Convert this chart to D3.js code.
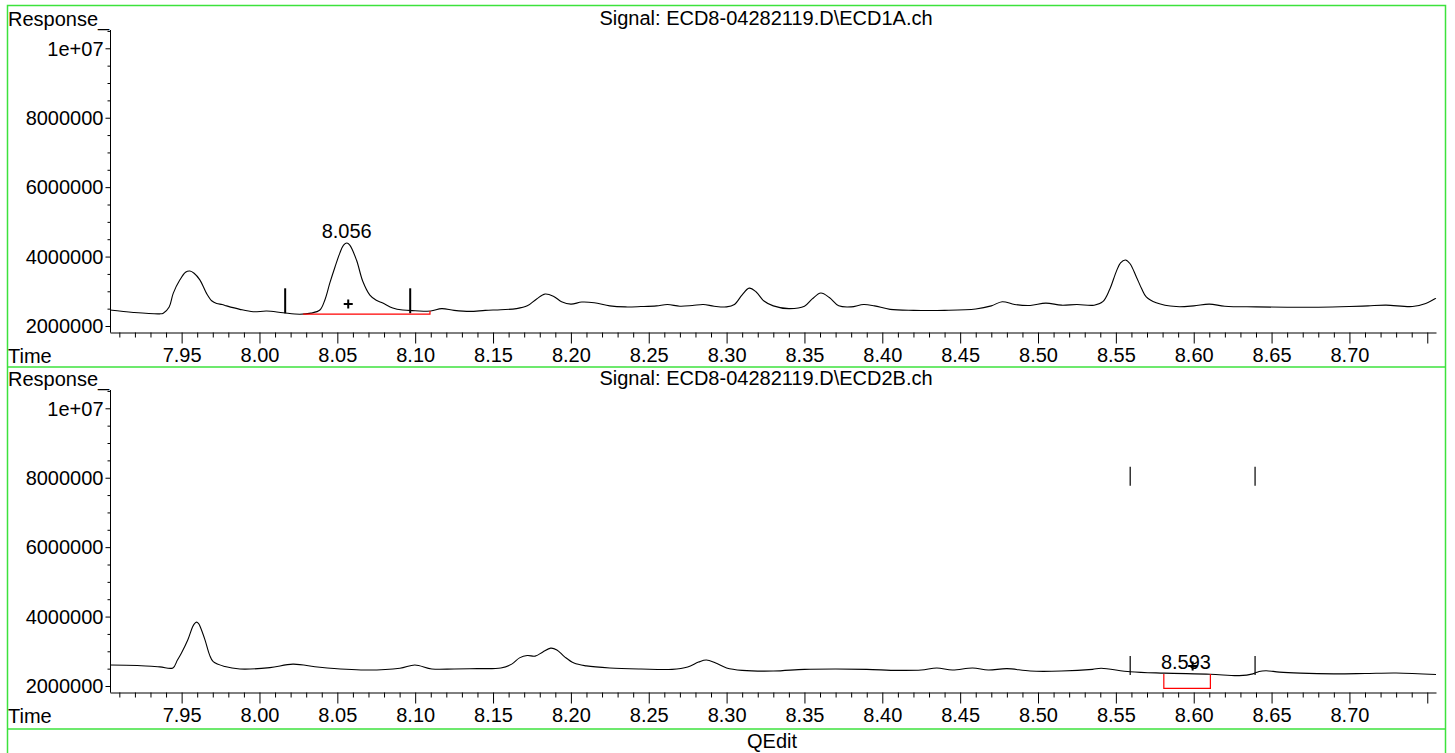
<!DOCTYPE html>
<html>
<head>
<meta charset="utf-8">
<script src="https://cdn.jsdelivr.net/npm/d3@7"></script>
<style>
  body { margin: 0; background: #fff; }
  svg { display: block; font-family: "Liberation Sans", Arial, sans-serif; }
  .lbl { font-size: 20px; fill: #000; }
</style>
</head>
<body>
<svg width="1455" height="753"></svg>
<script>
// ---- data ----
const topTitle = 'Signal: ECD8-04282119.D\\ECD1A.ch'
const bottomTitle = 'Signal: ECD8-04282119.D\\ECD2B.ch'

// ECD1A trace (time, response)
const topTimes = [7.904, 7.919, 7.936, 7.9382, 7.942, 7.9446, 7.9489, 7.9525, 7.9553, 7.958, 7.9617, 7.966, 7.9695, 7.9725, 7.976, 7.9789,
  7.9874, 7.996, 8.0046, 8.0152, 8.0259, 8.033, 8.0388, 8.042, 8.0452, 8.0485, 8.0516, 8.054, 8.0561, 8.058, 8.0623, 8.0664, 8.0709, 8.075,
  8.0792, 8.0856, 8.092, 8.100, 8.110, 8.117, 8.125, 8.135, 8.145, 8.155, 8.165, 8.172, 8.178, 8.1835, 8.189, 8.194, 8.200, 8.207, 8.215,
  8.225, 8.235, 8.245, 8.255, 8.262, 8.270, 8.278, 8.285, 8.292, 8.300, 8.305, 8.310, 8.3145, 8.319, 8.324, 8.330, 8.340, 8.350, 8.355,
  8.3605, 8.366, 8.372, 8.380, 8.388, 8.395, 8.405, 8.420, 8.440, 8.460, 8.470, 8.477, 8.485, 8.495, 8.505, 8.515, 8.525, 8.536, 8.5416,
  8.546, 8.5502, 8.553, 8.5562, 8.559, 8.5631, 8.5665, 8.5695, 8.5759, 8.5887, 8.600, 8.610, 8.620, 8.640, 8.660, 8.680, 8.700, 8.712,
  8.7235, 8.7405, 8.749, 8.7556]
const topValues = [2.46e6, 2.39e6, 2.35e6, 2.37e6, 2.55e6, 2.94e6, 3.33e6, 3.55e6, 3.585e6, 3.52e6, 3.33e6, 2.94e6, 2.72e6, 2.65e6, 2.62e6, 2.58e6,
  2.48e6, 2.41e6, 2.43e6, 2.38e6, 2.34e6, 2.37e6, 2.46e6, 2.75e6, 3.24e6, 3.70e6, 4.10e6, 4.33e6, 4.39e6, 4.33e6, 3.90e6, 3.28e6, 2.89e6, 2.74e6,
  2.66e6, 2.52e6, 2.46e6, 2.44e6, 2.43e6, 2.50e6, 2.45e6, 2.42e6, 2.45e6, 2.47e6, 2.50e6, 2.58e6, 2.78e6, 2.92e6, 2.85e6, 2.70e6, 2.63e6, 2.69e6, 2.67e6,
  2.58e6, 2.55e6, 2.56e6, 2.58e6, 2.62e6, 2.57e6, 2.59e6, 2.62e6, 2.57e6, 2.55e6, 2.62e6, 2.90e6, 3.09e6, 2.98e6, 2.72e6, 2.58e6, 2.50e6, 2.57e6, 2.78e6,
  2.95e6, 2.82e6, 2.58e6, 2.55e6, 2.62e6, 2.58e6, 2.48e6, 2.45e6, 2.45e6, 2.49e6, 2.58e6, 2.70e6, 2.62e6, 2.59e6, 2.66e6, 2.60e6, 2.62e6, 2.60e6, 2.70e6,
  3.05e6, 3.56e6, 3.82e6, 3.90e6, 3.80e6, 3.42e6, 3.08e6, 2.84e6, 2.67e6, 2.56e6, 2.58e6, 2.63e6, 2.57e6, 2.55e6, 2.54e6, 2.54e6, 2.56e6, 2.58e6,
  2.60e6, 2.56e6, 2.65e6, 2.80e6]

// ECD2B trace (time, response)
const bottomTimes = [7.904, 7.9215, 7.936, 7.9444, 7.9473, 7.9499, 7.954, 7.957, 7.9583, 7.9596, 7.9609, 7.962, 7.965, 7.968, 7.9703, 7.9778, 7.9874, 8.0067,
  8.0215, 8.0388, 8.0677, 8.0902, 8.0998, 8.1107, 8.125, 8.140, 8.155, 8.162, 8.167, 8.172, 8.177, 8.182, 8.187, 8.191, 8.196, 8.202, 8.210,
  8.225, 8.245, 8.265, 8.275, 8.282, 8.287, 8.293, 8.300, 8.310, 8.330, 8.350, 8.370, 8.390, 8.410, 8.425, 8.435, 8.445, 8.458, 8.468, 8.480,
  8.495, 8.515, 8.535, 8.5405, 8.5592, 8.581, 8.6107, 8.6293, 8.638, 8.642, 8.6465, 8.655, 8.6684, 8.690, 8.710, 8.730, 8.7556]
const bottomValues = [2.605e6, 2.59e6, 2.55e6, 2.52e6, 2.75e6, 2.95e6, 3.33e6, 3.70e6, 3.80e6, 3.84e6, 3.80e6, 3.70e6, 3.33e6, 2.89e6, 2.70e6, 2.56e6, 2.49e6, 2.53e6,
  2.63e6, 2.54e6, 2.46e6, 2.51e6, 2.605e6, 2.49e6, 2.49e6, 2.50e6, 2.52e6, 2.63e6, 2.81e6, 2.88e6, 2.86e6, 2.98e6, 3.09e6, 3.04e6, 2.84e6, 2.66e6, 2.58e6,
  2.52e6, 2.49e6, 2.48e6, 2.55e6, 2.69e6, 2.75e6, 2.66e6, 2.52e6, 2.45e6, 2.43e6, 2.48e6, 2.49e6, 2.48e6, 2.45e6, 2.46e6, 2.52e6, 2.46e6, 2.52e6, 2.46e6, 2.50e6,
  2.43e6, 2.43e6, 2.48e6, 2.51e6, 2.41e6, 2.37e6, 2.34e6, 2.30e6, 2.35e6, 2.42e6, 2.44e6, 2.40e6, 2.37e6, 2.35e6, 2.36e6, 2.375e6, 2.33e6]

// peak annotations
const topPeak = { label: '8.056', rt: 8.056, labelValue: 4.39e6, plus: [8.057, 2.634e6],
  markTimes: [8.0165, 8.0968], markRanges: [[2.366e6, 3.086e6]],
  bracket: [[8.028, 2.34e6], [8.1095, 2.34e6], [8.1095, 2.43e6]] }
const bottomPeak = { label: '8.593', rt: 8.595, labelValue: 2.36e6, plus: [8.5993, 2.576e6],
  markTimes: [8.5592, 8.6394], markRanges: [[2.317e6, 2.864e6], [7.771e6, 8.318e6]],
  bracket: [[8.5808, 2.346e6], [8.5808, 1.934e6], [8.6107, 1.934e6], [8.6107, 2.346e6]] }

const xTickValues = [7.95, 8.00, 8.05, 8.10, 8.15, 8.20, 8.25, 8.30, 8.35, 8.40, 8.45, 8.50, 8.55, 8.60, 8.65, 8.70, 8.75]
const xTickLabels = ['7.95', '8.00', '8.05', '8.10', '8.15', '8.20', '8.25', '8.30', '8.35', '8.40', '8.45', '8.50', '8.55', '8.60', '8.65', '8.70', '']
const yTickValues = [2e6, 4e6, 6e6, 8e6, 1e7]
const yTickLabels = ['2000000', '4000000', '6000000', '8000000', '1e+07']

// ---- layout ----
const svg = d3.select('svg')
const green = '#3ce23c'
const panelH = 360

const xScale = d3.scaleLinear().domain([7.904, 8.7556]).range([110, 1436])

// 外枠（緑）
svg.append('path')
  .attr('d', 'M7.5,760 V5.5 H1445.5 V760')
  .attr('fill', 'none').attr('stroke', green).attr('stroke-width', 1.5)
;[367, 729].forEach(y => {
  svg.append('line').attr('x1', 7.5).attr('x2', 1445.5).attr('y1', y).attr('y2', y)
    .attr('stroke', green).attr('stroke-width', 1.5)
})

svg.append('text').attr('class', 'lbl').attr('x', 772).attr('y', 748)
  .attr('text-anchor', 'middle').text('QEdit')

function drawPanel (offset, title, times, values, peak) {
  const g = svg.append('g').attr('transform', `translate(0, ${offset})`)
  const yScale = d3.scaleLinear().domain([1.807e6, 1.0527e7]).range([332.7, 30])

  // y軸
  const yMinor = d3.range(4, 22).map(i => i * 5e5).filter(v => !yTickValues.includes(v))
  g.append('g').attr('transform', 'translate(110.5,0)')
    .call(d3.axisLeft(yScale).tickValues(yMinor).tickSize(3).tickFormat('').tickSizeOuter(0))
    .call(s => s.select('.domain').remove())
  const yAxis = g.append('g').attr('transform', 'translate(110.5,0)')
    .call(d3.axisLeft(yScale).tickValues(yTickValues).tickSize(5).tickSizeOuter(0)
      .tickFormat((d, i) => yTickLabels[i]))
  yAxis.select('.domain').attr('d', `M0,${yScale.range()[1]}V${yScale.range()[0]}`)
  yAxis.selectAll('text').attr('class', 'lbl').attr('font-size', null).attr('font-family', null)
    .attr('x', -7).attr('dy', '0.34em')

  // x軸
  const xMinor = d3.range(791, 876).map(i => i / 100).filter(v => !xTickValues.some(t => Math.abs(t - v) < 1e-9))
  g.append('g').attr('transform', 'translate(0,332.5)')
    .call(d3.axisBottom(xScale).tickValues(xMinor).tickSize(5).tickFormat('').tickSizeOuter(0))
    .call(s => s.select('.domain').remove())
  const xAxis = g.append('g').attr('transform', 'translate(0,332.5)')
    .call(d3.axisBottom(xScale).tickValues(xTickValues).tickSize(11).tickSizeOuter(0)
      .tickFormat((d, i) => xTickLabels[i]))
  xAxis.selectAll('text').attr('class', 'lbl').attr('font-size', null).attr('font-family', null)
    .attr('y', 29.5).attr('dy', null)

  g.append('text').attr('class', 'lbl').attr('x', 8).attr('y', 363).text('Time')
  g.append('text').attr('class', 'lbl').attr('x', 8).attr('y', 26).text('Response_')
  g.append('text').attr('class', 'lbl').attr('x', 766).attr('y', 25)
    .attr('text-anchor', 'middle').text(title)

  // トレース
  const line = d3.line()
    .x((d, i) => xScale(times[i]))
    .y((d, i) => yScale(values[i]))
    .curve(d3.curveCatmullRom.alpha(0.5))
  g.append('path').datum(values).attr('d', line)
    .attr('fill', 'none').attr('stroke', '#000').attr('stroke-width', 1.1)

  // 積分範囲のマーカー
  peak.markTimes.forEach(t => {
    peak.markRanges.forEach(r => {
      g.append('line')
        .attr('x1', xScale(t)).attr('x2', xScale(t))
        .attr('y1', yScale(r[0])).attr('y2', yScale(r[1]))
        .attr('stroke', '#000').attr('stroke-width', offset === 0 ? 2 : 1.2)
    })
  })
  g.append('path')
    .attr('d', d3.line().x(d => xScale(d[0])).y(d => yScale(d[1]))(peak.bracket))
    .attr('fill', 'none').attr('stroke', '#f00').attr('stroke-width', 1.2)

  g.append('text').attr('class', 'lbl')
    .attr('x', xScale(peak.rt)).attr('y', yScale(peak.labelValue) - 5)
    .attr('text-anchor', 'middle').text(peak.label)

  const px = xScale(peak.plus[0])
  const py = yScale(peak.plus[1])
  g.append('path').attr('d', `M${px - 4.5},${py}H${px + 4.5}M${px},${py - 4.5}V${py + 4.5}`)
    .attr('stroke', '#000').attr('stroke-width', 2)
}

drawPanel(0, topTitle, topTimes, topValues, topPeak)
drawPanel(panelH, bottomTitle, bottomTimes, bottomValues, bottomPeak)
</script>
</body>
</html>
